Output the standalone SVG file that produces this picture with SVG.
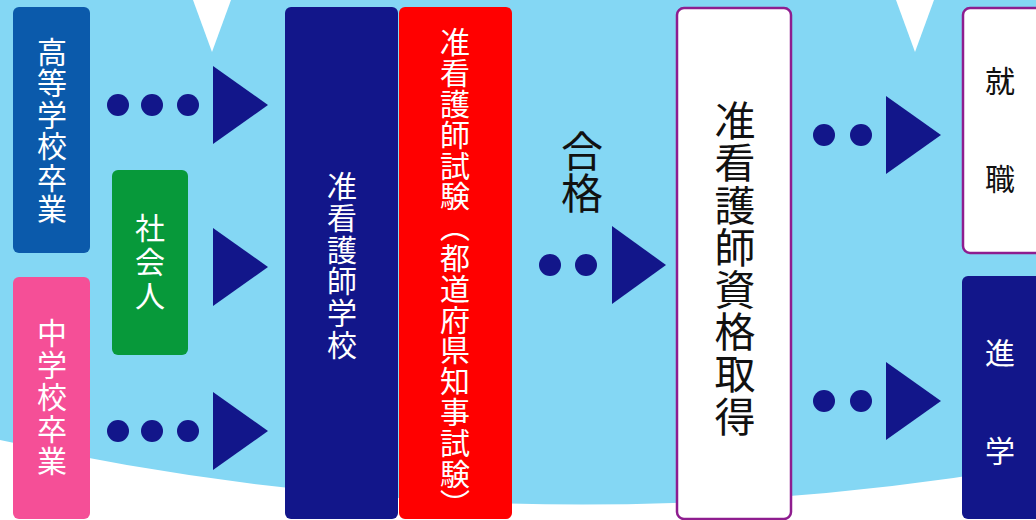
<svg xmlns="http://www.w3.org/2000/svg" width="1036" height="520" viewBox="0 0 1036 520">
<style>
.jp{font-family:"Noto Sans CJK JP","Noto Sans CJK SC",sans-serif;}
.v{writing-mode:vertical-rl;text-anchor:middle;}
.vs{writing-mode:vertical-rl;text-anchor:start;}
.w{fill:#ffffff;}
.k{fill:#111111;}
.arr{fill:#12168a;}
.wb{fill:#ffffff;stroke:#8e1d8f;stroke-width:2.5;}
</style>
<rect x="0" y="0" width="1036" height="520" fill="#84d7f4"/>
<path d="M0,440 Q520,555 1036,465 L1036,520 L0,520 Z" fill="#ffffff"/>
<polygon points="193,0 231,0 212,52" fill="#ffffff"/>
<polygon points="896,0 934,0 915,52" fill="#ffffff"/>

<g id="node-koukou">
<rect x="13" y="7" width="77" height="246" rx="6" fill="#0b5aab"/>
<text class="jp v w" x="52" y="131" font-size="30" letter-spacing="1.5">高等学校卒業</text>
</g>
<g id="node-shakaijin">
<rect x="112" y="170" width="76" height="185" rx="6" fill="#07993a"/>
<text class="jp v w" x="150" y="264" font-size="30" letter-spacing="4">社会人</text>
</g>
<g id="node-chugaku">
<rect x="13" y="277" width="77" height="242" rx="6" fill="#f54f97"/>
<text class="jp v w" x="52" y="398" font-size="30" letter-spacing="2">中学校卒業</text>
</g>
<g id="node-school">
<rect x="285" y="7" width="113" height="512" rx="6" fill="#12168a"/>
<text class="jp v w" x="342" y="266" font-size="30" letter-spacing="1.7">准看護師学校</text>
</g>
<g id="node-exam">
<rect x="399" y="7" width="113" height="512" rx="6" fill="#ff0000"/>
<text class="jp vs w" x="455" y="27" font-size="30" letter-spacing="0.8">准看護師試験（都道府県知事試験）</text>
</g>
<g id="node-shikaku">
<rect x="677" y="8" width="114" height="511" rx="7" class="wb"/>
<text class="jp v k" x="735" y="269" font-size="41" letter-spacing="1.2">准看護師資格取得</text>
</g>
<g id="node-shushoku">
<rect x="963" y="8" width="80" height="245" rx="7" class="wb"/>
<text class="jp k" x="1000" y="92" font-size="30" text-anchor="middle">就</text>
<text class="jp k" x="1000" y="190" font-size="30" text-anchor="middle">職</text>
</g>
<g id="node-shingaku">
<rect x="962" y="276" width="80" height="243" rx="6" fill="#12168a"/>
<text class="jp w" x="1000" y="364" font-size="30" text-anchor="middle">進</text>
<text class="jp w" x="1000" y="462" font-size="30" text-anchor="middle">学</text>
</g>
<g id="label-goukaku">
<text class="jp vs k" x="582" y="130" font-size="42" letter-spacing="0">合格</text>
</g>

<g id="connectors" class="arr">
<circle cx="118" cy="105" r="11"/><circle cx="152" cy="105" r="11"/><circle cx="188" cy="105" r="11"/>
<polygon points="213,66 268,105 213,144"/>
<polygon points="213,228 268,267 213,306"/>
<circle cx="118" cy="431" r="11"/><circle cx="152" cy="431" r="11"/><circle cx="188" cy="431" r="11"/>
<polygon points="213,392 268,431 213,470"/>
<circle cx="550" cy="265" r="11"/><circle cx="586" cy="265" r="11"/>
<polygon points="612,226 666,265 612,304"/>
<circle cx="824" cy="135" r="11"/><circle cx="861" cy="135" r="11"/>
<polygon points="886,96 941,135 886,174"/>
<circle cx="824" cy="401" r="11"/><circle cx="861" cy="401" r="11"/>
<polygon points="886,362 941,401 886,440"/>
</g>
</svg>
